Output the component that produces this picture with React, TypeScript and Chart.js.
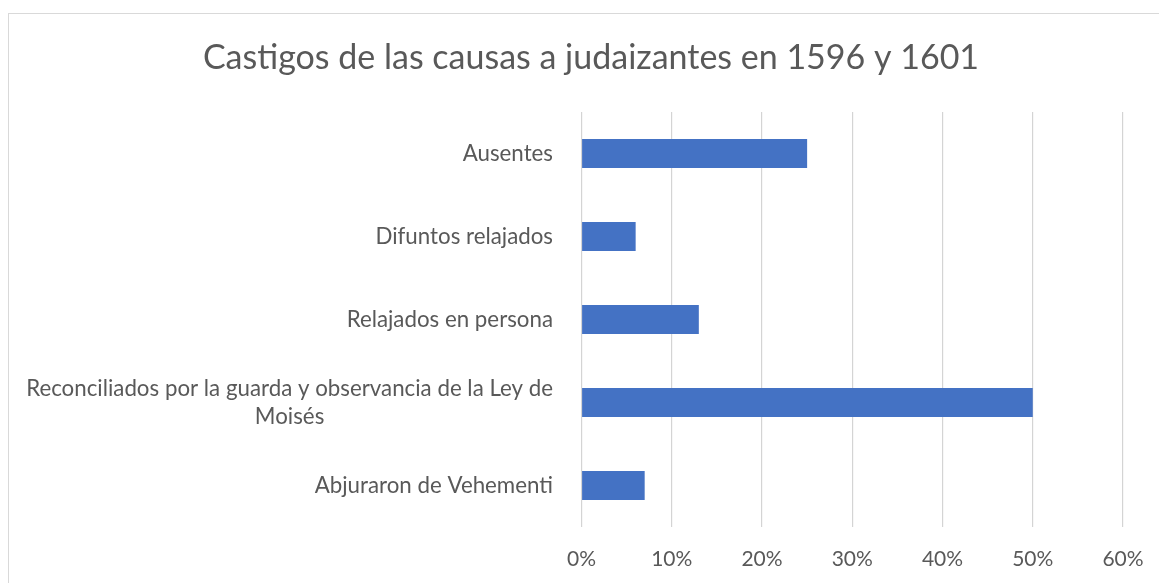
import React, { useEffect, useRef } from "react";
import { Chart, registerables } from "chart.js";

Chart.register(...registerables);

const TITLE = "Castigos de las causas a judaizantes en 1596 y 1601";
const categories: (string | string[])[] = [
  "Ausentes",
  "Difuntos relajados",
  "Relajados en persona",
  ["Reconciliados por la guarda y observancia de la Ley de", "Moisés"],
  "Abjuraron de Vehementi",
];
const values = [25, 6, 13, 50, 7];
const xTicksMax = 60;
const xTickStep = 10;

const FONT = "Lato, 'Open Sans', sans-serif";
const TEXT_COLOR = "#595959";
const LABEL_SIZE = 22.3;

const yLabelPlugin = {
  id: "yLabels",
  afterDraw(chart: any) {
    const ctx = chart.ctx;
    const y = chart.scales.y;
    ctx.save();
    ctx.font = `${LABEL_SIZE}px ${FONT}`;
    ctx.fillStyle = TEXT_COLOR;
    ctx.textBaseline = "middle";
    ctx.textAlign = "center";
    categories.forEach((lab, i) => {
      const lines = Array.isArray(lab) ? lab : [lab];
      const w = Math.max(...lines.map((l) => ctx.measureText(l).width));
      const cx = chart.chartArea.left - 28.5 - w / 2;
      const cy = y.getPixelForValue(i);
      lines.forEach((l, j) => {
        ctx.fillText(l, cx, cy + (j - (lines.length - 1) / 2) * 28);
      });
    });
    ctx.restore();
  },
};

export default function App() {
  const ref = useRef<HTMLCanvasElement>(null);
  useEffect(() => {
    if (!ref.current) return;
    const chart = new Chart(ref.current, {
      type: "bar",
      data: {
        labels: categories as any,
        datasets: [
          {
            data: values,
            backgroundColor: "#4472C4",
            borderWidth: 0,
            barPercentage: 0.35,
            categoryPercentage: 1,
          },
        ],
      },
      options: {
        indexAxis: "y",
        responsive: false,
        animation: false,
        layout: { padding: { left: 59, right: 36, top: 0, bottom: 0 } },
        plugins: {
          legend: { display: false },
          tooltip: { enabled: false },
          title: {
            display: true,
            text: TITLE,
            color: TEXT_COLOR,
            font: { family: FONT, size: 34, weight: "normal", lineHeight: 1.2 },
            padding: { top: 38, bottom: 33.2 },
          },
        },
        scales: {
          x: {
            min: 0,
            max: xTicksMax,
            ticks: {
              stepSize: xTickStep,
              color: TEXT_COLOR,
              font: { family: FONT, size: 21 },
              padding: 0,
              callback: (v: any) => `${v}%`,
            },
            grid: {
              color: "#d4d4d4",
              lineWidth: 1.2,
              drawTicks: true,
              tickLength: 20,
              tickColor: "rgba(0,0,0,0)",
            },
            border: { display: false },
            afterFit: (s: any) => {
              s.height = 56;
            },
          },
          y: {
            ticks: { display: false },
            grid: { display: false },
            border: { display: false },
            afterFit: (s: any) => {
              s.width = 522.5;
            },
          },
        },
      },
      plugins: [yLabelPlugin],
    });
    return () => chart.destroy();
  }, []);

  return (
    <div
      style={{
        position: "fixed",
        left: 0,
        top: 0,
        width: 1159,
        height: 583,
        overflow: "hidden",
        background: "#fff",
      }}
    >
      <div
        style={{
          position: "absolute",
          left: 8,
          top: 13,
          width: 1200,
          height: 700,
          border: "1px solid #d9d9d9",
          boxSizing: "border-box",
        }}
      />
      <canvas
        ref={ref}
        width={1159}
        height={583}
        style={{ position: "absolute", left: 0, top: 0 }}
      />
    </div>
  );
}
